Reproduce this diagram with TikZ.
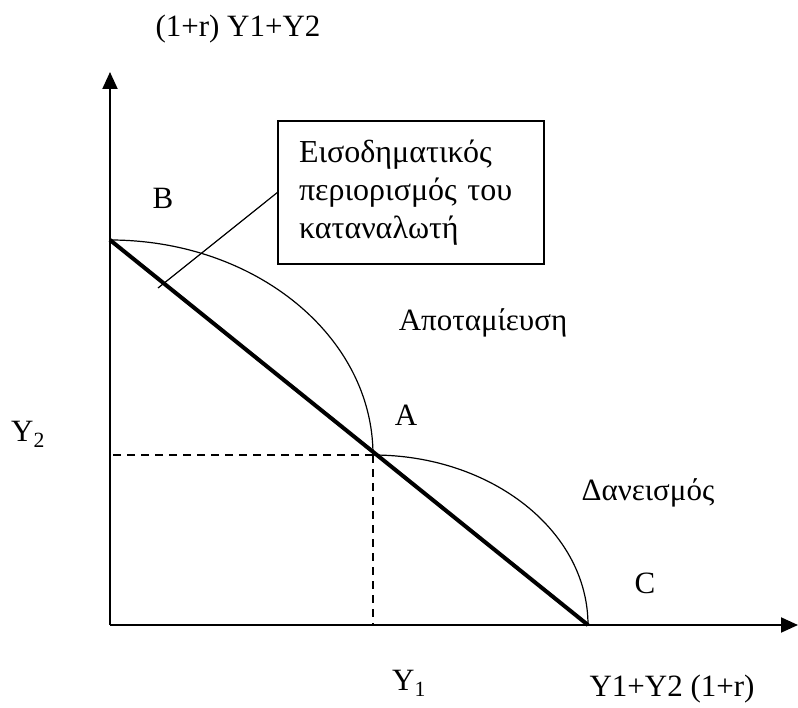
\documentclass[tikz,border=0pt]{standalone}
\usepackage{fontspec}
\setmainfont{Liberation Serif}
\usetikzlibrary{arrows.meta}
\begin{document}
\begin{tikzpicture}[x=1pt,y=-1pt,
  lbl/.style={font=\fontsize{31}{36}\selectfont, inner sep=0pt},
  axis/.style={line width=2pt, -{Triangle[length=17pt,width=15pt]}},
  curve/.style={line width=1.2pt},
  budget/.style={line width=4pt},
  guide/.style={line width=1.3pt, dash pattern=on 8pt off 6pt},
  callout/.style={line width=1.2pt}]
\useasboundingbox (0,0) rectangle (798,708);
\coordinate (O) at (110,625);
\coordinate (ytop) at (110,72);
\coordinate (xend) at (798,625);
\coordinate (B) at (110,240);
\coordinate (A) at (373,455);
\coordinate (C) at (588,625);
\coordinate (tip) at (158,288);
% axes
\draw[axis] (O) -- (ytop);
\draw[axis] (O) -- (xend);
% guides
\draw[guide] (A) -- (A -| O);
\draw[guide] (A) -- (A |- O);
% arcs (quarter ellipses)
\draw[curve] (B) .. controls (255.3,240) and (373,336.3) .. (A);
\draw[curve] (A) .. controls (491.7,455) and (588,531.1) .. (C);
% budget line
\draw[budget] (B) -- (C);
% callout box
\node[draw, line width=1.3pt, minimum width=266pt, minimum height=143pt,
      inner xsep=21pt, text width=224pt, align=left,
      font=\fontsize{32}{38}\selectfont] (box) at (411,192.5)
  {Εισοδηματικός\\περιορισμός του\\καταναλωτή};
\draw[callout] (box.west) -- (tip);
% labels
\node[lbl] (t1) at (238,29) {(1+r) Y1+Y2};
\node[lbl] (lB) at (163,198) {B};
\node[lbl] (lsave) at (483,323) {Αποταμίευση};
\node[lbl] (lA) at (406,415) {A};
\node[lbl] (lY2) at (28,434) {Y\textsubscript{2}};
\node[lbl] (lborrow) at (648,493) {Δανεισμός};
\node[lbl] (lC) at (645,583) {C};
\node[lbl] (lY1) at (409,683) {Y\textsubscript{1}};
\node[lbl] (t2) at (672,689) {Y1+Y2 (1+r)};
\end{tikzpicture}
\end{document}
